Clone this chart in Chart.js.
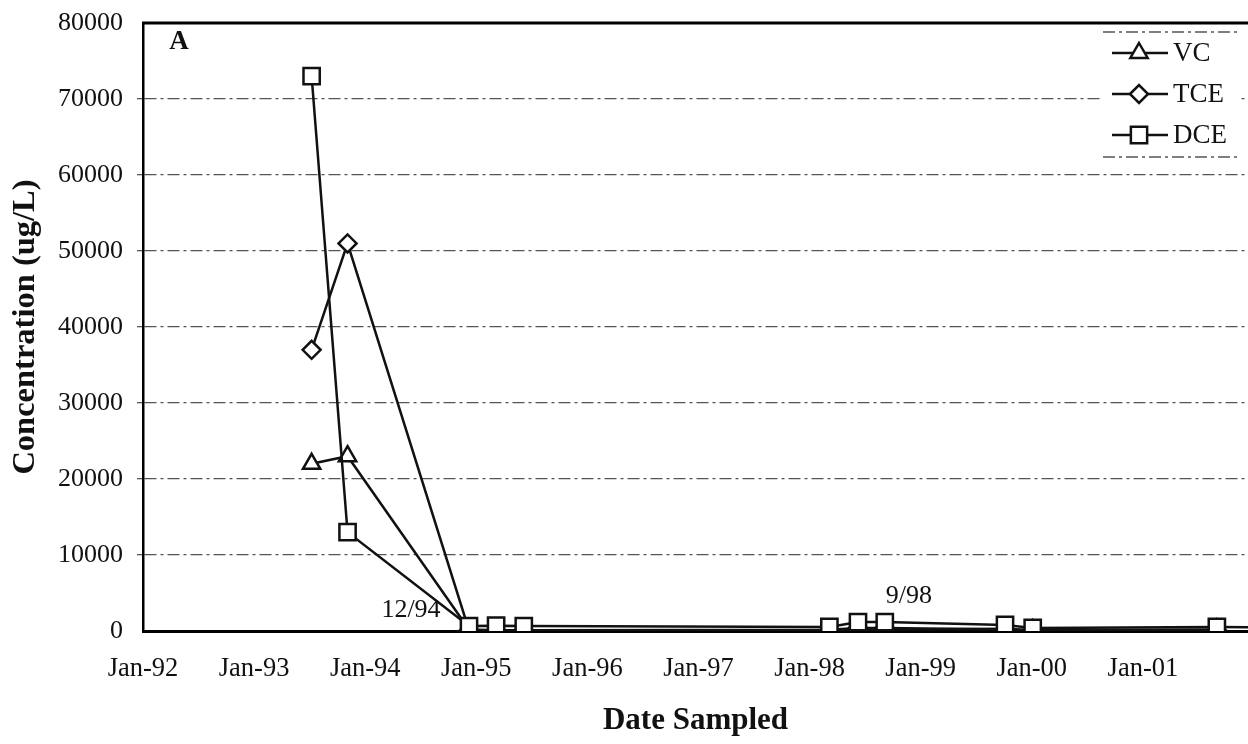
<!DOCTYPE html>
<html>
<head>
<meta charset="utf-8">
<title>Concentration vs Date Sampled</title>
<script src="https://cdn.jsdelivr.net/npm/chart.js@4.4.1/dist/chart.umd.min.js"></script>
<style>
  html, body { margin: 0; padding: 0; background: #fff; }
  #wrap { width: 1248px; height: 744px; }
</style>
</head>
<body>
<div id="wrap"><canvas id="chart" width="1248" height="744"></canvas></div>
<script>
// Sampling dates (the last one sits just past the visible right edge)
const sampleDates = ['1993-07-09', '1993-11-04', '1994-12-08', '1995-03-07', '1995-06-06',
  '1998-03-07', '1998-06-09', '1998-09-05', '1999-10-05', '2000-01-04', '2001-09-01', '2002-03-01'];

// Concentrations in ug/L
const vcValues  = [22000, 23000, 200, 100, 100, 100, 200, 200, 300, 100, 200, null];
const tceValues = [37000, 51000, 100, 100, 100, 150, 400, 400, 200, 100, 100, null];
const dceValues = [73000, 13000, 650, 700, 650, 530, 1180, 1180, 790, 400, 530, 450];

const seriesNames = ['VC', 'TCE', 'DCE'];
const seriesStyles = ['triangle', 'rectRot', 'rect'];

// Axis settings
const yMin = 0, yMax = 80000, yStep = 10000;
const xFirstYear = 1992, xLastVisible = 2001.946;

// Text notes pinned to DCE samples
const notes = [
  { text: '12/94', index: 2, dx: -58, dy: -16 },
  { text: '9/98', index: 7, dx: 24, dy: -26 }
];

const serif = "'Liberation Serif', 'Times New Roman', serif";
const ink = '#111';

// 'YYYY-MM-DD' -> decimal year
function toYear(s) {
  const d = new Date(s + 'T00:00:00Z');
  const y = d.getUTCFullYear();
  const start = Date.UTC(y, 0, 1);
  const end = Date.UTC(y + 1, 0, 1);
  return y + (d.getTime() - start) / (end - start);
}

function makePoints(values) {
  return sampleDates.map((d, i) => ({ x: toYear(d), y: values[i] }));
}

const markerRadius = { triangle: 10, rectRot: 9, rect: 11.5 };

function makeDataset(i, values, order) {
  const style = seriesStyles[i];
  return {
    label: seriesNames[i],
    data: makePoints(values),
    borderColor: ink,
    borderWidth: 2.5,
    tension: 0,
    pointStyle: style,
    pointRadius: markerRadius[style],
    pointBorderWidth: 2.5,
    pointBorderColor: ink,
    pointBackgroundColor: '#fff',
    order: order
  };
}

// draw a legend marker by hand
function drawMarker(ctx, style, x, y) {
  const r = markerRadius[style];
  ctx.beginPath();
  if (style === 'triangle') {
    ctx.moveTo(x, y - r);
    ctx.lineTo(x + r * 0.866, y + r / 2);
    ctx.lineTo(x - r * 0.866, y + r / 2);
  } else if (style === 'rectRot') {
    ctx.moveTo(x - r, y);
    ctx.lineTo(x, y - r);
    ctx.lineTo(x + r, y);
    ctx.lineTo(x, y + r);
  } else {
    const s = r * Math.SQRT1_2;
    ctx.rect(x - s, y - s, 2 * s, 2 * s);
  }
  ctx.closePath();
  ctx.fillStyle = '#fff';
  ctx.fill();
  ctx.stroke();
}

// scales keep their own label overflow padding; drop it so the plot area is fixed
function noPadding(s) {
  s.paddingTop = 0;
  s.paddingBottom = 0;
  s.paddingLeft = 0;
  s.paddingRight = 0;
}

const extrasPlugin = {
  id: 'extras',
  afterDraw(chart) {
    const ctx = chart.ctx;
    const area = chart.chartArea;
    const xs = chart.scales.x;
    const ys = chart.scales.y;
    ctx.save();

    // top frame line
    ctx.strokeStyle = '#000';
    ctx.lineWidth = 3;
    ctx.beginPath();
    ctx.moveTo(area.left - 1, area.top);
    ctx.lineTo(area.right, area.top);
    ctx.stroke();

    // panel letter
    ctx.fillStyle = ink;
    ctx.font = 'bold 27px ' + serif;
    ctx.textAlign = 'center';
    ctx.textBaseline = 'middle';
    ctx.fillText('A', 179, 42);

    // notes
    ctx.font = '26px ' + serif;
    notes.forEach(n => {
      const px = xs.getPixelForValue(toYear(sampleDates[n.index]));
      const py = ys.getPixelForValue(dceValues[n.index]);
      ctx.fillText(n.text, px + n.dx, py + n.dy);
    });

    // legend
    const box = { left: 1103, right: 1240, top: 32, bottom: 157 };
    ctx.fillStyle = '#fff';
    ctx.fillRect(box.left, box.top, box.right - box.left, box.bottom - box.top);
    ctx.strokeStyle = '#555';
    ctx.lineWidth = 1.3;
    ctx.setLineDash([12, 4, 3, 4]);
    ctx.beginPath();
    ctx.moveTo(box.left, box.top); ctx.lineTo(box.right, box.top);
    ctx.moveTo(box.left, box.bottom); ctx.lineTo(box.right, box.bottom);
    ctx.stroke();
    ctx.setLineDash([]);

    const rowY = [53, 94, 135];
    ctx.strokeStyle = ink;
    ctx.lineWidth = 2.5;
    ctx.font = '27px ' + serif;
    ctx.textAlign = 'left';
    seriesNames.forEach((name, i) => {
      const y = rowY[i];
      ctx.beginPath();
      ctx.moveTo(1112, y);
      ctx.lineTo(1168, y);
      ctx.stroke();
      drawMarker(ctx, seriesStyles[i], 1139, y);
      ctx.fillStyle = ink;
      ctx.fillText(name, 1173, y + 1);
    });

    ctx.restore();
  }
};

const tickFont = { family: serif, size: 26.5 };
const titleFont = { family: serif, size: 31, weight: 'bold' };

new Chart(document.getElementById('chart'), {
  type: 'line',
  data: {
    datasets: [
      makeDataset(0, vcValues, 2),
      makeDataset(1, tceValues, 1),
      makeDataset(2, dceValues, 0)
    ]
  },
  options: {
    responsive: false,
    animation: false,
    layout: { autoPadding: false, padding: { top: 23, right: 0, left: 0, bottom: 0 } },
    plugins: {
      legend: { display: false },
      tooltip: { enabled: false }
    },
    scales: {
      x: {
        type: 'linear',
        min: xFirstYear,
        max: xLastVisible,
        grid: { display: false, drawTicks: false },
        border: { display: true, color: '#000', width: 3 },
        ticks: {
          stepSize: 1,
          includeBounds: false,
          autoSkip: false,
          maxRotation: 0,
          padding: 22,
          font: tickFont,
          color: ink,
          callback: v => Number.isInteger(v) ? 'Jan-' + String(v).slice(2) : ''
        },
        title: {
          display: true,
          text: 'Date Sampled',
          font: titleFont,
          color: ink,
          padding: { top: 0, bottom: 4 }
        },
        afterFit: s => { s.height = 113; noPadding(s); }
      },
      y: {
        min: yMin,
        max: yMax,
        ticks: {
          stepSize: yStep,
          padding: 14,
          font: { family: serif, size: 26 },
          color: ink,
          callback: v => String(v)
        },
        grid: {
          color: c => (c.tick && (c.tick.value === yMax || c.tick.value === yMin)) ? 'rgba(0,0,0,0)' : '#555',
          lineWidth: 1.3,
          tickLength: 6
        },
        border: { display: true, color: '#000', width: 2.5, dash: [12, 4, 3, 4] },
        title: {
          display: true,
          text: 'Concentration (ug/L)',
          font: { family: serif, size: 32.5, weight: 'bold' },
          color: ink,
          padding: { top: 6, bottom: 0 }
        },
        afterFit: s => { s.width = 143; noPadding(s); }
      }
    }
  },
  plugins: [extrasPlugin]
});
</script>
</body>
</html>
